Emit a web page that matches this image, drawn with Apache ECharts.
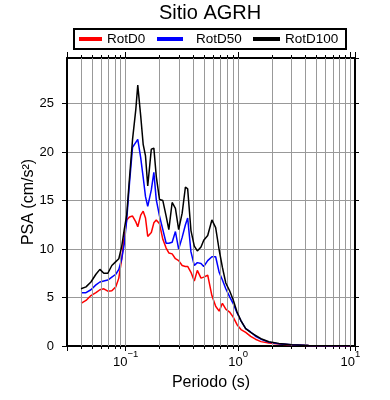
<!DOCTYPE html>
<html>
<head>
<meta charset="utf-8">
<script src="https://cdn.jsdelivr.net/npm/echarts@6/dist/echarts.min.js"></script>
<style>html,body{margin:0;padding:0;background:#fff}#c{width:390px;height:400px}</style>
</head>
<body>
<div id="c"></div>
<script>
const titleText = 'Sitio AGRH';
const seriesNames = ['RotD0', 'RotD50', 'RotD100'];
const seriesColors = ['#ff0000', '#0000ff', '#000000'];
const periods = [0.040, 0.0443, 0.049, 0.0543, 0.0589, 0.0638, 0.0693, 0.0752, 0.0816, 0.0868,
  0.0922, 0.097, 0.102, 0.108, 0.115, 0.123, 0.128, 0.136, 0.143, 0.150,
  0.157, 0.169, 0.178, 0.187, 0.200, 0.214, 0.229, 0.242, 0.259, 0.277,
  0.296, 0.318, 0.340, 0.356, 0.381, 0.408, 0.434, 0.468, 0.495, 0.537,
  0.585, 0.632, 0.679, 0.726, 0.778, 0.841, 0.903, 0.980, 1.063, 1.17,
  1.295, 1.43, 1.60, 1.88, 2.31, 3.0, 4.25, 6.4, 10];
const rotD0 = [4.4, 4.7, 5.2, 5.5, 5.8, 5.9, 5.65, 5.7, 6.1, 7.0,
  9.0, 11.3, 13.0, 13.3, 13.4, 12.8, 12.3, 13.5, 13.9, 13.2,
  11.3, 11.7, 12.7, 13.0, 12.6, 11.0, 10.1, 9.6, 9.5, 9.0,
  8.8, 8.3, 8.2, 8.2, 7.6, 6.7, 7.8, 7.0, 7.1, 7.3,
  5.2, 4.1, 3.6, 4.4, 3.8, 3.5, 3.0, 2.2, 1.7, 1.4,
  1.0, 0.7, 0.45, 0.3, 0.2, 0.1, 0.04, 0.02, 0.01];
const rotD50 = [5.5, 5.5, 5.8, 6.3, 6.6, 6.7, 6.8, 7.1, 7.4, 7.9,
  9.0, 10.5, 13.0, 16.8, 20.5, 21.0, 21.3, 19.4, 17.4, 15.4,
  14.4, 16.1, 17.9, 15.1, 13.4, 12.0, 10.6, 10.6, 10.7, 11.8,
  10.0, 11.2, 12.5, 13.2, 9.7, 8.3, 8.6, 8.5, 8.2, 8.8,
  9.2, 9.2, 7.6, 6.8, 5.9, 5.1, 4.4, 3.4, 2.6, 1.8,
  1.45, 1.0, 0.7, 0.4, 0.22, 0.12, 0.05, 0.025, 0.015];
const rotD100 = [5.9, 6.1, 6.6, 7.4, 7.9, 7.5, 7.5, 8.3, 8.7, 9.0,
  10.3, 12.0, 13.5, 17.3, 21.3, 24.4, 26.9, 23.7, 20.8, 19.6,
  16.5, 20.3, 20.4, 17.5, 15.1, 15.0, 13.4, 12.0, 14.8, 14.2,
  12.0, 13.7, 16.4, 16.2, 11.9, 10.3, 9.8, 10.2, 10.9, 11.4,
  13.0, 12.2, 9.9, 8.1, 6.5, 5.7, 4.8, 3.5, 2.6, 1.8,
  1.4, 1.1, 0.75, 0.44, 0.27, 0.14, 0.06, 0.03, 0.02];
const xTickValues = [0.1, 1, 10];
const xTickBase = ['10', '10', '10'];
const xTickExp = ['−1', '0', '1'];
const xGridValues = [0.04, 0.05, 0.06, 0.07, 0.08, 0.09, 0.1,
  0.2, 0.3, 0.4, 0.5, 0.6, 0.7, 0.8, 0.9, 1,
  2, 3, 4, 5, 6, 7, 8, 9, 10];
const xName = 'Periodo (s)';
const yName = 'PSA (cm/s²)';

const FONT = '"Liberation Sans", Arial, Helvetica, sans-serif';
const chart = echarts.init(document.getElementById('c'), null, {renderer: 'canvas'});
const seriesData = [rotD0, rotD50, rotD100];

function xFmt(v) {
  for (let i = 0; i < xTickValues.length; i++) {
    if (Math.abs(v - xTickValues[i]) / xTickValues[i] < 1e-6) {
      return '{b|' + xTickBase[i] + '}{s|' + xTickExp[i] + '}';
    }
  }
  return '';
}

const legendLeft = [79, 157, 253];
const legendIconW = [23, 26, 27];
const legendTextPad = [0, 8, 0];

const option = {
  animation: false,
  textStyle: {fontFamily: FONT, color: '#000'},
  title: {
    text: titleText, left: 159, top: 3, padding: 0,
    textStyle: {fontSize: 20, fontWeight: 'normal', color: '#000', fontFamily: FONT}
  },
  legend: seriesNames.map((n, i) => ({
    data: [n], left: legendLeft[i], top: 32, padding: 0,
    icon: 'rect', itemWidth: legendIconW[i], itemHeight: 4, itemGap: 0,
    textStyle: {fontSize: 13.5, color: '#000', fontFamily: FONT, padding: [0, 0, 0, legendTextPad[i]]},
    selectedMode: false
  })),
  graphic: {elements: [{
    type: 'rect', silent: true,
    shape: {x: 74, y: 29, width: 272, height: 20},
    style: {fill: 'none', stroke: '#000', lineWidth: 2}
  }]},
  grid: {left: 67, right: 35, top: 58, bottom: 54, show: false, containLabel: false, outerBoundsMode: 'none'},
  xAxis: [{
    type: 'log', logBase: 10, min: 0.03, max: 11, position: 'bottom',
    axisLine: {show: true, onZero: false, lineStyle: {color: '#000', width: 2}},
    axisTick: {show: true, length: 5, lineStyle: {color: '#000', width: 1}},
    minorTick: {show: true, splitNumber: 9, length: 3, lineStyle: {color: '#000', width: 1}},
    splitLine: {show: false}, minorSplitLine: {show: false},
    axisLabel: {
      formatter: xFmt, showMinLabel: false, showMaxLabel: false, color: '#000', margin: 3,
      rich: {
        b: {fontSize: 13, fontFamily: FONT, color: '#000', lineHeight: 20, verticalAlign: 'bottom'},
        s: {fontSize: 9.5, fontFamily: FONT, color: '#000', lineHeight: 11, verticalAlign: 'top'}
      }
    },
    name: xName, nameLocation: 'middle', nameGap: 29, nameMoveOverlap: false,
    nameTextStyle: {fontSize: 16, color: '#000', fontFamily: FONT}
  }, {
    type: 'log', logBase: 10, min: 0.03, max: 11, position: 'top',
    axisLine: {show: true, onZero: false, lineStyle: {color: '#000', width: 2}},
    axisTick: {show: true, length: 6, lineStyle: {color: '#000', width: 1}},
    minorTick: {show: true, splitNumber: 9, length: 3, lineStyle: {color: '#000', width: 1}},
    splitLine: {show: false}, axisLabel: {show: false}
  }],
  yAxis: [{
    type: 'value', min: 0, max: 29.7, interval: 5, position: 'left',
    axisLine: {show: true, onZero: false, lineStyle: {color: '#000', width: 2}},
    axisTick: {show: true, length: 5, lineStyle: {color: '#000', width: 1}},
    splitLine: {show: true, lineStyle: {color: '#999', width: 1}},
    axisLabel: {fontSize: 13, color: '#000', margin: 13, showMaxLabel: false, fontFamily: FONT},
    name: yName, nameLocation: 'middle', nameGap: 30, nameMoveOverlap: false,
    nameTextStyle: {fontSize: 16, color: '#000', fontFamily: FONT}
  }, {
    type: 'value', min: 0, max: 29.7, interval: 5, position: 'right',
    axisLine: {show: true, onZero: false, lineStyle: {color: '#000', width: 2}},
    axisTick: {show: true, length: 4, lineStyle: {color: '#000', width: 1}},
    splitLine: {show: false}, axisLabel: {show: false}
  }],
  series: [{
    type: 'line', name: '_grid', xAxisIndex: 0, yAxisIndex: 0, z: 1, silent: true,
    data: [[1, 0]], symbol: 'none', lineStyle: {opacity: 0}, legendHoverLink: false,
    markLine: {
      silent: true, symbol: ['none', 'none'], label: {show: false}, animation: false,
      lineStyle: {color: '#999', width: 1, type: 'solid'},
      emphasis: {disabled: true},
      data: xGridValues.map(v => ({xAxis: v}))
    }
  }].concat(seriesNames.map((n, i) => ({
    type: 'line', name: n, xAxisIndex: 0, yAxisIndex: 0, z: 3 + i,
    data: periods.map((p, k) => [p, seriesData[i][k]]),
    symbol: 'none', showSymbol: false, smooth: false,
    lineStyle: {color: seriesColors[i], width: 1.5},
    itemStyle: {color: seriesColors[i]},
    emphasis: {disabled: true}
  })))
};
chart.setOption(option);
</script>
</body>
</html>
